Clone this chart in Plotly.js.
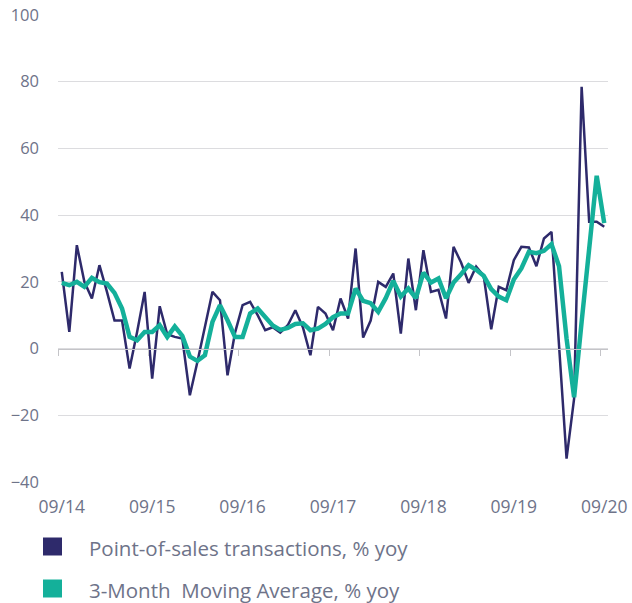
<!DOCTYPE html>
<html><head><meta charset="utf-8">
<script src="https://cdn.plot.ly/plotly-3.0.1.min.js"></script>
<style>html,body{margin:0;padding:0;background:#fff}#chart{width:632px;height:603px}</style>
</head><body><div id="chart"></div>
<script>
// Monthly categories, Sep 2014 .. Sep 2020
const months = [];
for (let yr = 2014, mo = 9; months.length < 73; ) {
  months.push(String(mo).padStart(2, '0') + '/' + String(yr).slice(2));
  mo++; if (mo > 12) { mo = 1; yr++; }
}
const tickLabels = ['09/14', '09/15', '09/16', '09/17', '09/18', '09/19', '09/20'];
const seriesNames = ['Point-of-sales transactions, % yoy', '3-Month  Moving Average, % yoy'];

const posTransactions = [
  23, 5, 31, 20, 15, 25, 17, 8.4, 8.4, -6,
  5, 17, -9, 12.7, 4.3, 3.5, 3, -14, -4, 7,
  17, 14.5, -8, 4.8, 13, 14, 10, 5.5, 6.4, 4.8,
  7, 11.5, 6.4, -2, 12.5, 10.5, 5.5, 15, 9, 30,
  3.3, 8.4, 20, 18.5, 22.5, 4.5, 27, 11.5, 29.5, 17,
  17.6, 9, 30.5, 25.8, 19.7, 24.6, 21.8, 5.8, 18.5, 17.5,
  26.5, 30.5, 30.3, 24.7, 33, 35, 0, -33, -15, 78.5,
  38, 38, 36.5
];
const movingAverage = [
  19.7, 19, 20, 18.5, 21.2, 19.9, 19.5, 16.7, 12, 3.5,
  2.5, 5, 5, 7, 3.5, 6.6, 3.8, -2.4, -3.7, -2,
  8, 13, 8.5, 3.5, 3.5, 10.5, 12, 9.2, 6.9, 5.6,
  6.2, 7.4, 7.6, 5.5, 6, 7.4, 9.4, 10.5, 10.5, 18,
  14.3, 13.6, 11, 15.1, 20.3, 15.6, 18, 15.1, 22.8, 19.8,
  21, 15.1, 19.8, 22.3, 25, 23.6, 21.8, 17.8, 15.6, 14.5,
  20.7, 24, 29, 28.6, 29.3, 31.3, 24.7, 3, -14.6, 8,
  30.6, 51.8, 37.6
];

const navy = '#2e2a6b';
const teal = '#14b09a';
const textColor = '#6e7389';
const fontFamily = '"Open Sans", Lato, sans-serif';

const W = 632, H = 603;
const M = { l: 58, r: 24, t: 15, b: 121 };
const plotW = W - M.l - M.r, plotH = H - M.t - M.b;
const px = v => (v - M.l) / plotW;           // page x -> paper
const py = v => (H - M.b - v) / plotH;        // page y -> paper

const xIdx = months.map((_, i) => i);
const tickIdx = tickLabels.map(t => months.indexOf(t));

const traces = [
  { x: xIdx, y: posTransactions, type: 'scatter', mode: 'lines', name: seriesNames[0],
    line: { color: navy, width: 2.5 }, showlegend: false, hoverinfo: 'skip' },
  { x: xIdx, y: movingAverage, type: 'scatter', mode: 'lines', name: seriesNames[1],
    line: { color: teal, width: 4.5 }, showlegend: false, hoverinfo: 'skip' },
  { x: [null], y: [null], type: 'scatter', mode: 'markers', xaxis: 'x2',
    showlegend: false, hoverinfo: 'skip' }
];

// legend built from the series names / colours
const legendColors = [navy, teal];
const legendRows = [546.5, 588.5];
const shapes = legendRows.map((cy, k) => ({
  type: 'rect', xref: 'paper', yref: 'paper',
  x0: px(43), x1: px(62), y0: py(cy - 9), y1: py(cy + 9),
  fillcolor: legendColors[k], line: { width: 0 }
}));
const annotations = legendRows.map((cy, k) => ({
  xref: 'paper', yref: 'paper', x: px(87), y: py(cy + 1.5),
  xanchor: 'left', yanchor: 'middle', showarrow: false,
  text: seriesNames[k], font: { family: fontFamily, size: 20.5, color: textColor }
}));

const layout = {
  width: W, height: H,
  margin: M,
  paper_bgcolor: '#ffffff', plot_bgcolor: '#ffffff',
  font: { family: fontFamily, color: textColor, size: 16 },
  showlegend: false,
  shapes, annotations,
  xaxis: {
    range: [-0.5, 72.5], anchor: 'free', position: 40 / 140,
    showline: true, linecolor: '#c4c4c8', linewidth: 1.5,
    ticks: 'outside', ticklen: 6, tickwidth: 1, tickcolor: '#c4c4c8',
    tickmode: 'array', tickvals: tickIdx.map(i => i - 0.5),
    showticklabels: false, showgrid: false, zeroline: false, fixedrange: true
  },
  xaxis2: {
    overlaying: 'x', anchor: 'y', side: 'bottom', range: [-0.5, 72.5],
    tickmode: 'array', tickvals: tickIdx, ticktext: tickLabels, tickangle: 0,
    ticks: '', showline: false, showgrid: false, zeroline: false,
    tickfont: { family: fontFamily, size: 17.5, color: textColor },
    ticklabelstandoff: 12, fixedrange: true
  },
  yaxis: {
    range: [-40, 100], tickmode: 'array', tickvals: [-40, -20, 0, 20, 40, 60, 80, 100],
    showgrid: true, gridcolor: '#dcdcdf', gridwidth: 1, zeroline: false, showline: false,
    ticks: '', tickfont: { family: fontFamily, size: 16.5, color: textColor },
    ticklabelstandoff: 18, fixedrange: true
  }
};

Plotly.newPlot('chart', traces, layout, { displayModeBar: false, staticPlot: true });
</script>
</body></html>
